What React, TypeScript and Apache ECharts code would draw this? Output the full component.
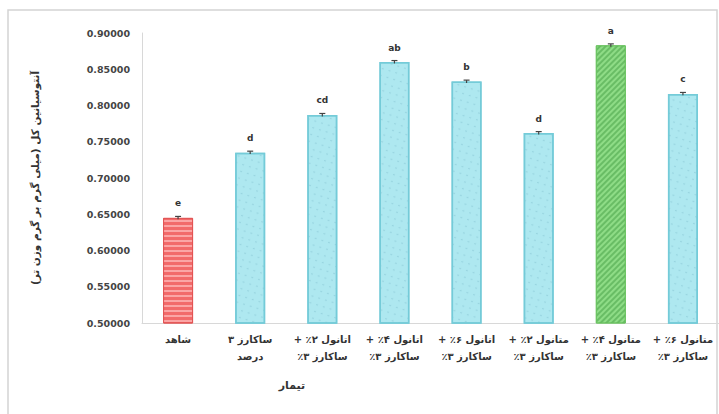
import React, { useEffect, useRef } from "react";
import * as echarts from "echarts";

// Treatments (two-line labels), mean total anthocyanin and significance letters
const categories = [
  "شاهد",
  "ساکارز ۳\nدرصد",
  "اتانول ۲٪ +\nساکارز ۳٪",
  "اتانول ۴٪ +\nساکارز ۳٪",
  "اتانول ۶٪ +\nساکارز ۳٪",
  "متانول ۲٪ +\nساکارز ۳٪",
  "متانول ۴٪ +\nساکارز ۳٪",
  "متانول ۶٪ +\nساکارز ۳٪",
];
const values = [0.645, 0.735, 0.787, 0.86, 0.833, 0.762, 0.883, 0.816];
const errors = [0.002, 0.002, 0.002, 0.002, 0.002, 0.002, 0.002, 0.002];
const letters = ["e", "d", "cd", "ab", "b", "d", "a", "c"];
const yTicks = { min: 0.5, max: 0.9, interval: 0.05 };
const yTitle = "آنتوسیانین کل (میلی گرم بر گرم وزن تر)";
const xTitle = "تیمار";

const FONT = "DejaVu Sans";
const RLM = "\u200F";

// wrap every line in right-to-left marks so Persian lines keep their order
const rtl = (s: string) =>
  s
    .split("\n")
    .map((line) => RLM + line + RLM)
    .join("\n");

const redStyle = {
  color: "#f26a6a",
  borderColor: "#e25555",
  borderWidth: 1,
  decal: {
    symbol: "rect",
    symbolSize: 1,
    dashArrayX: [1, 0],
    dashArrayY: [2, 3],
    rotation: 0,
    color: "rgba(255,190,190,0.7)",
  },
};
const cyanStyle = {
  color: "#aee8f0",
  borderColor: "#74cbd8",
  borderWidth: 1.5,
  decal: {
    symbol: "circle",
    symbolSize: 0.6,
    dashArrayX: [[2, 5]],
    dashArrayY: [3, 4],
    rotation: 0.3,
    color: "rgba(90,160,180,0.45)",
  },
};
const greenStyle = {
  color: "#8edc86",
  borderColor: "#6cc462",
  borderWidth: 1,
  decal: {
    symbol: "rect",
    symbolSize: 1,
    dashArrayX: [1, 0],
    dashArrayY: [2, 2],
    rotation: -Math.PI / 4,
    color: "rgba(60,150,60,0.45)",
  },
};

function styleFor(i: number) {
  if (i === 0) return redStyle;
  if (i === 6) return greenStyle;
  return cyanStyle;
}

export default function App() {
  const ref = useRef<HTMLDivElement>(null);

  useEffect(() => {
    if (!ref.current) return;
    const chart = echarts.init(ref.current, null, { renderer: "svg" });
    chart.setOption({
      animation: false,
      backgroundColor: "#ffffff",
      grid: { left: 142, top: 33, width: 580, bottom: 91 },
      xAxis: {
        type: "category",
        data: categories,
        axisLine: { lineStyle: { color: "#d8d8d8", width: 1 } },
        axisTick: { show: false },
        axisLabel: {
          interval: 0,
          margin: 8,
          fontFamily: FONT,
          fontSize: 10,
          fontWeight: "bold",
          color: "#333",
          lineHeight: 17,
          formatter: (v: string) => rtl(v),
        },
      },
      yAxis: {
        type: "value",
        min: yTicks.min,
        max: yTicks.max,
        interval: yTicks.interval,
        name: rtl(yTitle),
        nameLocation: "middle",
        nameGap: 102,
        nameTextStyle: {
          fontFamily: FONT,
          fontSize: 10.5,
          fontWeight: "bold",
          color: "#333",
        },
        axisLine: { show: true, lineStyle: { color: "#d8d8d8", width: 1 } },
        axisTick: { show: false },
        splitLine: { show: false },
        axisLabel: {
          margin: 12,
          fontFamily: FONT,
          fontSize: 9.5,
          fontWeight: "bold",
          color: "#444",
          formatter: (v: number) => v.toFixed(5),
        },
      },
      graphic: [
        {
          type: "rect",
          shape: { x: 8, y: 10, width: 709, height: 410 },
          style: { fill: "none", stroke: "#d4d4d4", lineWidth: 1.5 },
          silent: true,
        },
        {
          type: "text",
          x: 292,
          y: 385,
          style: {
            text: rtl(xTitle),
            font: `bold 11px "${FONT}"`,
            fill: "#333",
            align: "center",
            verticalAlign: "middle",
          },
        },
      ],
      series: [
        {
          type: "bar",
          barWidth: 30,
          data: values.map((v, i) => ({ value: v, itemStyle: styleFor(i) })),
          label: {
            show: true,
            position: "top",
            distance: 10,
            fontFamily: FONT,
            fontSize: 9,
            fontWeight: "bold",
            color: "#333",
            formatter: (p: any) => letters[p.dataIndex],
          },
        },
        {
          type: "custom",
          data: values.map((v, i) => [i, v, errors[i]]),
          renderItem: (params: any, api: any) => {
            const x = api.value(0);
            const v = api.value(1);
            const e = api.value(2);
            const hi = api.coord([x, v + e]);
            const lo = api.coord([x, v - e]);
            const style = { stroke: "#444", lineWidth: 1.2 };
            return {
              type: "group",
              children: [
                { type: "line", shape: { x1: hi[0], y1: hi[1], x2: lo[0], y2: lo[1] }, style },
                { type: "line", shape: { x1: hi[0] - 3, y1: hi[1], x2: hi[0] + 3, y2: hi[1] }, style },
              ],
            };
          },
          z: 5,
        },
      ],
    });
    return () => chart.dispose();
  }, []);

  return (
    <div
      ref={ref}
      style={{ position: "fixed", left: 0, top: 0, width: 719, height: 414 }}
    />
  );
}
